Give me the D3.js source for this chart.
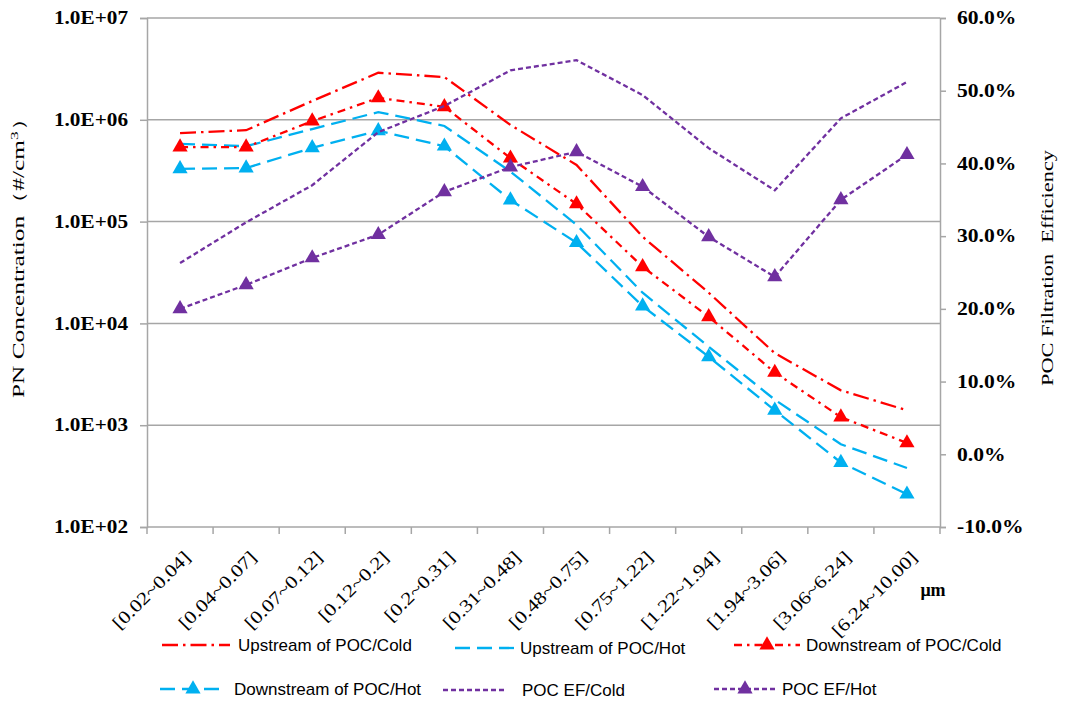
<!DOCTYPE html>
<html>
<head>
<meta charset="utf-8">
<script src="https://cdn.jsdelivr.net/npm/d3@7/dist/d3.min.js"></script>
<style>
  html, body { margin: 0; padding: 0; background: #fff; }
  svg { display: block; }
</style>
</head>
<body>
<svg id="chart" width="1071" height="702"></svg>
<script>
// Particle size bins (µm)
const categories = ["[0.02~0.04]", "[0.04~0.07]", "[0.07~0.12]", "[0.12~0.2]", "[0.2~0.31]", "[0.31~0.48]",
  "[0.48~0.75]", "[0.75~1.22]", "[1.22~1.94]", "[1.94~3.06]", "[3.06~6.24]", "[6.24~10.00]"];

// Particle number concentration (#/cm3), left axis
const upstreamCold   = [7.4e5, 7.9e5, 1.53e6, 2.9e6, 2.63e6, 8.9e5, 3.6e5, 7.1e4, 2.0e4, 5.1e3, 2.2e3, 1.4e3];
const downstreamCold = [5.4e5, 5.4e5, 9.7e5, 1.64e6, 1.34e6, 4.2e5, 1.49e5, 3.6e4, 1.16e4, 3.3e3, 1.2e3, 6.7e2];
const upstreamHot    = [5.8e5, 5.5e5, 8.1e5, 1.19e6, 8.7e5, 3.1e5, 9.3e4, 2.0e4, 5.9e3, 1.78e3, 6.5e2, 3.8e2];
const downstreamHot  = [3.3e5, 3.36e5, 5.3e5, 7.8e5, 5.5e5, 1.63e5, 6.2e4, 1.48e4, 4.7e3, 1.4e3, 4.3e2, 2.1e2];

// Filtration efficiency (fraction), right axis
const efCold = [0.263, 0.319, 0.370, 0.443, 0.479, 0.528, 0.542, 0.494, 0.421, 0.363, 0.462, 0.512];
const efHot  = [0.200, 0.233, 0.270, 0.302, 0.361, 0.395, 0.416, 0.368, 0.299, 0.244, 0.350, 0.412];

// Axis ticks
const leftTicks = [1e2, 1e3, 1e4, 1e5, 1e6, 1e7];
const leftTickLabels = ["1.0E+02", "1.0E+03", "1.0E+04", "1.0E+05", "1.0E+06", "1.0E+07"];
const rightTicks = [-0.1, 0, 0.1, 0.2, 0.3, 0.4, 0.5, 0.6];
const rightTickLabels = ["-10.0%", "0.0%", "10.0%", "20.0%", "30.0%", "40.0%", "50.0%", "60.0%"];

const RED = "#FF0000", CYAN = "#00B0F0", PURPLE = "#7030A0", GRID = "#A6A6A6";
const serif = "'Liberation Serif', 'DejaVu Serif', serif";
const sans = "'Liberation Sans', 'DejaVu Sans', sans-serif";

// Widen serif text horizontally (wide serif face look)
function widen(sel, factor) {
  sel.each(function () {
    const w = this.getComputedTextLength();
    d3.select(this).attr("textLength", w * factor).attr("lengthAdjust", "spacingAndGlyphs");
  });
}

const svg = d3.select("#chart");
const plot = { left: 147, right: 940, top: 18, bottom: 527 };

const x = d3.scaleBand().domain(categories).range([plot.left, plot.right]);
const cx = c => x(c) + x.bandwidth() / 2;
const y = d3.scaleLog().domain([1e2, 1e7]).range([plot.bottom, plot.top]);
const y2 = d3.scaleLinear().domain([-0.1, 0.6]).range([plot.bottom, plot.top]);

// Horizontal gridlines at each decade
svg.append("g").selectAll("line")
  .data(leftTicks.slice(1))
  .join("line")
  .attr("x1", plot.left).attr("x2", plot.right)
  .attr("y1", d => y(d)).attr("y2", d => y(d))
  .attr("stroke", GRID).attr("stroke-width", 1.5);

// Left axis
const leftAxis = svg.append("g")
  .attr("transform", `translate(${plot.left},0)`)
  .call(d3.axisLeft(y).tickValues(leftTicks)
    .tickFormat((d, i) => leftTickLabels[i]).tickSize(7).tickPadding(12));
leftAxis.select(".domain").attr("stroke", GRID).attr("stroke-width", 1.5);
leftAxis.selectAll(".tick line").attr("stroke", GRID).attr("stroke-width", 1.5);
leftAxis.selectAll(".tick text")
  .attr("font-family", serif).attr("font-weight", "bold").attr("font-size", 18).attr("fill", "#000")
  .call(widen, 1.18);

// Right axis
const rightAxis = svg.append("g")
  .attr("transform", `translate(${plot.right},0)`)
  .call(d3.axisRight(y2).tickValues(rightTicks)
    .tickFormat((d, i) => rightTickLabels[i]).tickSize(6).tickPadding(11));
rightAxis.select(".domain").attr("stroke", GRID).attr("stroke-width", 1.5);
rightAxis.selectAll(".tick line").attr("stroke", GRID).attr("stroke-width", 1.5);
rightAxis.selectAll(".tick text")
  .attr("font-family", serif).attr("font-weight", "bold").attr("font-size", 18).attr("fill", "#000")
  .call(widen, 1.2);

// Bottom axis: ticks on bin boundaries, rotated labels
const bottom = svg.append("g");
bottom.append("line")
  .attr("x1", plot.left).attr("x2", plot.right)
  .attr("y1", plot.bottom).attr("y2", plot.bottom)
  .attr("stroke", GRID).attr("stroke-width", 1.5);
bottom.selectAll("line.tk")
  .data(categories.concat(["end"]))
  .join("line").attr("class", "tk")
  .attr("x1", d => d === "end" ? plot.right : x(d))
  .attr("x2", d => d === "end" ? plot.right : x(d))
  .attr("y1", plot.bottom).attr("y2", plot.bottom + 7)
  .attr("stroke", GRID).attr("stroke-width", 1.5);
bottom.selectAll("text")
  .data(categories)
  .join("text")
  .attr("transform", d => `translate(${cx(d) + 7},${plot.bottom + 27}) rotate(-45)`)
  .attr("text-anchor", "end")
  .attr("dy", "0.35em")
  .attr("font-family", serif).attr("font-size", 18)
  .text(d => d)
  .call(widen, 1.2);

svg.append("text")
  .attr("x", 933).attr("y", 596)
  .attr("text-anchor", "middle")
  .attr("font-family", serif).attr("font-weight", "bold").attr("font-size", 18)
  .text("μm");

// Axis titles
svg.append("text")
  .attr("transform", "translate(24,252) rotate(-90)")
  .attr("text-anchor", "middle")
  .attr("font-family", serif).attr("font-size", 16)
  .attr("textLength", 292).attr("lengthAdjust", "spacingAndGlyphs")
  .html("PN Concentration（#/cm<tspan dy='-6' font-size='11'>3</tspan><tspan dy='6'>）</tspan>");

svg.append("text")
  .attr("transform", "translate(1053,268) rotate(-90)")
  .attr("text-anchor", "middle")
  .attr("font-family", serif).attr("font-size", 16)
  .attr("textLength", 236).attr("lengthAdjust", "spacingAndGlyphs")
  .attr("xml:space", "preserve")
  .text("POC Filtration  Efficiency");

// Series definitions
const series = [
  { name: "Upstream of POC/Cold", values: upstreamCold, scale: y, color: RED, dash: "16,5,2.5,5", marker: false },
  { name: "Upstream of POC/Hot", values: upstreamHot, scale: y, color: CYAN, dash: "15,7", marker: false },
  { name: "Downstream of POC/Cold", values: downstreamCold, scale: y, color: RED, dash: "8,5,2.5,5", marker: true },
  { name: "Downstream of POC/Hot", values: downstreamHot, scale: y, color: CYAN, dash: "15,7", marker: true },
  { name: "POC EF/Cold", values: efCold, scale: y2, color: PURPLE, dash: "5,3", marker: false },
  { name: "POC EF/Hot", values: efHot, scale: y2, color: PURPLE, dash: "5,3", marker: true }
];

const tri = d3.symbol().type(d3.symbolTriangle).size(100);

series.forEach(s => {
  const pts = s.values.map((v, i) => [cx(categories[i]), s.scale(v)]);
  svg.append("path")
    .attr("d", d3.line()(pts))
    .attr("fill", "none")
    .attr("stroke", s.color)
    .attr("stroke-width", 2.3)
    .attr("stroke-dasharray", s.dash);
  if (s.marker) {
    svg.append("g").selectAll("path")
      .data(pts)
      .join("path")
      .attr("d", tri)
      .attr("transform", d => `translate(${d[0]},${d[1]})`)
      .attr("fill", s.color);
  }
});

// Legend
const legendItems = [
  { s: series[0], x1: 162, x2: 230, tx: 238, y: 645 },
  { s: series[1], x1: 455, x2: 517, tx: 520, y: 648 },
  { s: series[2], x1: 734, x2: 800, tx: 806, y: 645 },
  { s: series[3], x1: 160, x2: 226, tx: 234, y: 689 },
  { s: series[4], x1: 443, x2: 505, tx: 522, y: 690 },
  { s: series[5], x1: 714, x2: 776, tx: 782, y: 689 }
];
const legend = svg.append("g");
legendItems.forEach(it => {
  legend.append("line")
    .attr("x1", it.x1).attr("x2", it.x2)
    .attr("y1", it.y).attr("y2", it.y)
    .attr("stroke", it.s.color).attr("stroke-width", 2.3)
    .attr("stroke-dasharray", it.s.dash);
  if (it.s.marker) {
    legend.append("path")
      .attr("d", tri)
      .attr("transform", `translate(${(it.x1 + it.x2) / 2},${it.y})`)
      .attr("fill", it.s.color);
  }
  legend.append("text")
    .attr("x", it.tx).attr("y", it.y)
    .attr("dy", "0.35em")
    .attr("font-family", sans).attr("font-size", 17)
    .text(it.s.name);
});
</script>
</body>
</html>
